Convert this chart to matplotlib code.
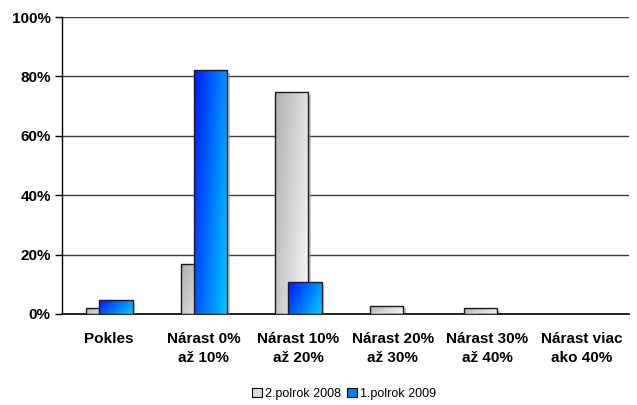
import matplotlib
matplotlib.use("Agg")
import matplotlib.pyplot as plt
import numpy as np
from matplotlib.patches import Patch
import matplotlib.patheffects as pe
from matplotlib.colors import LinearSegmentedColormap

categories = ["Pokles", "Nárast 0%\naž 10%", "Nárast 10%\naž 20%", "Nárast 20%\naž 30%",
              "Nárast 30%\naž 40%", "Nárast viac\nako 40%"]
series_names = ["2.polrok 2008", "1.polrok 2009"]
values_2008 = [1.9, 16.8, 74.6, 2.8, 1.9, 0.0]
values_2009 = [4.7, 82.0, 10.7, 0.0, 0.0, 0.0]
yticks = [0, 20, 40, 60, 80, 100]

plt.rcParams['font.family'] = ['Liberation Sans', 'DejaVu Sans']

fig = plt.figure(figsize=(6.37, 4.05), dpi=100)
ax = fig.add_axes([0.0973, 0.2247, 0.89, 0.7333])

x = np.arange(len(categories))
width = 0.35
offsets = [-0.068, 0.072]

n = 64
xx, yy = np.meshgrid(np.linspace(0, 1, n), np.linspace(0, 1, n))
grad = xx * 0.7 + yy * 0.3  # origin='upper' -> row 0 at top

cmap_gray = LinearSegmentedColormap.from_list("g", ["#b0b0b0", "#f8f8f8"])
cmap_blue = LinearSegmentedColormap.from_list("b", ["#0018ff", "#00ccff"])

for vals, off, cmap, z in [(values_2008, offsets[0], cmap_gray, 3), (values_2009, offsets[1], cmap_blue, 6)]:
    # shadow
    ax.bar(x + off, vals, width, facecolor='none', edgecolor='none', zorder=z - 0.5,
           path_effects=[pe.SimplePatchShadow(offset=(2, -2), shadow_rgbFace='#a0a0a0', alpha=0.6)])
    bars = ax.bar(x + off, vals, width, facecolor='none', edgecolor='#1a1a1a', linewidth=1.0, zorder=z + 1)
    for b, v in zip(bars, vals):
        if v <= 0:
            continue
        x0 = b.get_x()
        im = ax.imshow(grad, cmap=cmap, extent=[x0, x0 + width, 0, v], origin='upper',
                       aspect='auto', zorder=z, interpolation='bilinear', vmin=0, vmax=1)
        im.set_clip_path(b)

ax.set_xlim(-0.5, len(categories) - 0.5)
ax.set_ylim(0, 100)
ax.set_yticks(yticks)
ax.set_yticklabels([f"{t}%" for t in yticks], fontsize=11, fontweight='bold')
ax.set_xticks(x)
ax.set_xticklabels(categories, fontsize=11, fontweight='bold', linespacing=1.45)
ax.tick_params(axis='x', length=0, pad=13)
ax.tick_params(axis='y', length=5, width=1, direction='out', pad=3)
ax.yaxis.grid(True, color='#3a3a3a', linewidth=1.0, zorder=0)
ax.set_axisbelow(True)
for s in ['top', 'right']:
    ax.spines[s].set_visible(False)
ax.spines['left'].set_linewidth(1.0)
ax.spines['bottom'].set_linewidth(1.2)

handles = [Patch(facecolor='#dcdcdc', edgecolor='black', linewidth=0.8),
           Patch(facecolor='#0080ff', edgecolor='black', linewidth=0.8)]
fig.legend(handles, series_names, loc='center', bbox_to_anchor=(0.54, 0.028), ncol=2,
           frameon=False, fontsize=9, handlelength=0.8, handleheight=0.8, handletextpad=0.2,
           columnspacing=0.5, borderpad=0.1)

fig.savefig("out.png", dpi=100)
